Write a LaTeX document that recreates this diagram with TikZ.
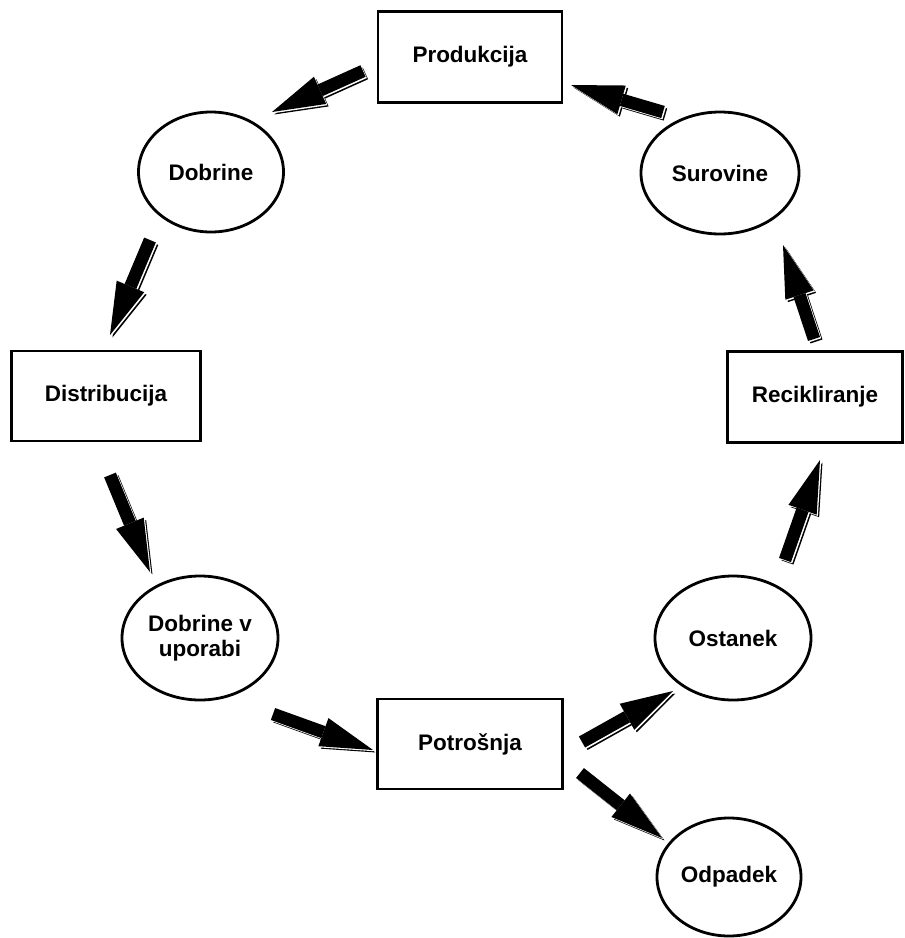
\documentclass[tikz,border=0pt]{standalone}
\usepackage{fontspec}
\setmainfont{Liberation Sans}
\usetikzlibrary{arrows.meta,shapes.geometric}

\tikzset{
	box/.style={draw, line width=1.6pt, rectangle, inner sep=0pt,
		font=\bfseries\fontsize{12.8}{14.5}\selectfont},
	oval/.style={draw, line width=1.6pt, ellipse, inner sep=0pt, align=center,
		font=\bfseries\fontsize{12.8}{14.5}\selectfont},
	tip/.style={-{Triangle[length=30pt,width=17pt,line width=0pt]}},
	flow/.style={line width=7.2pt, tip,
		preaction={draw=black, line width=7.2pt, tip, transform canvas={shift={(1.4pt,-1.4pt)}}},
		preaction={draw=white, line width=7.2pt, tip, transform canvas={shift={(0.7pt,-0.7pt)}}}}
}

\begin{document}
\begin{tikzpicture}[x=0.02cm, y=-0.02cm]
		\useasboundingbox (0,0) rectangle (905,938);
		
		% Boxes of the cycle
		\node[box, minimum width=184*0.02cm, minimum height=91*0.02cm] (prod) at (470,57) {Produkcija};
		\node[box, minimum width=189*0.02cm, minimum height=90*0.02cm] (distr) at (106,396) {Distribucija};
		\node[box, minimum width=175*0.02cm, minimum height=91*0.02cm] (recik) at (815,397) {Recikliranje};
		\node[box, minimum width=185*0.02cm, minimum height=90*0.02cm] (potr) at (470,744) {Potrošnja};
		
		% Ellipses
		\node[oval, minimum width=145*0.02cm, minimum height=120*0.02cm] (dob) at (211,172) {Dobrine};
		\node[oval, minimum width=158*0.02cm, minimum height=122*0.02cm] (surov) at (720,173) {Surovine};
		\node[oval, minimum width=156*0.02cm, minimum height=124*0.02cm] (dobupo) at (200,638) {Dobrine v\\uporabi};
		\node[oval, minimum width=156*0.02cm, minimum height=124*0.02cm] (ostan) at (733,638) {Ostanek};
		\node[oval, minimum width=144*0.02cm, minimum height=118*0.02cm] (odp) at (729,877) {Odpadek};
		
		% Block arrows between the stages
		\draw[flow] ([shift={(-107,14)}]prod.center) -- ([shift={(61,-60)}]dob.center);
		\draw[flow] ([shift={(-61,68)}]dob.center) -- ([shift={(4,-61)}]distr.center);
		\draw[flow] ([shift={(4,79)}]distr.center) -- ([shift={(-50,-66)}]dobupo.center);
		\draw[flow] ([shift={(73,76)}]dobupo.center) -- ([shift={(-97,6)}]potr.center);
		\draw[flow] ([shift={(112,-2)}]potr.center) -- ([shift={(-60,53)}]ostan.center);
		\draw[flow] ([shift={(110,29)}]potr.center) -- ([shift={(-67,-39)}]odp.center);
		\draw[flow] ([shift={(52,-78)}]ostan.center) -- ([shift={(5,63)}]recik.center);
		\draw[flow] ([shift={(-1,-58)}]recik.center) -- ([shift={(63,72)}]surov.center);
		\draw[flow] ([shift={(-57,-61)}]surov.center) -- ([shift={(101,28)}]prod.center);
		
	\end{tikzpicture}
\end{document}
